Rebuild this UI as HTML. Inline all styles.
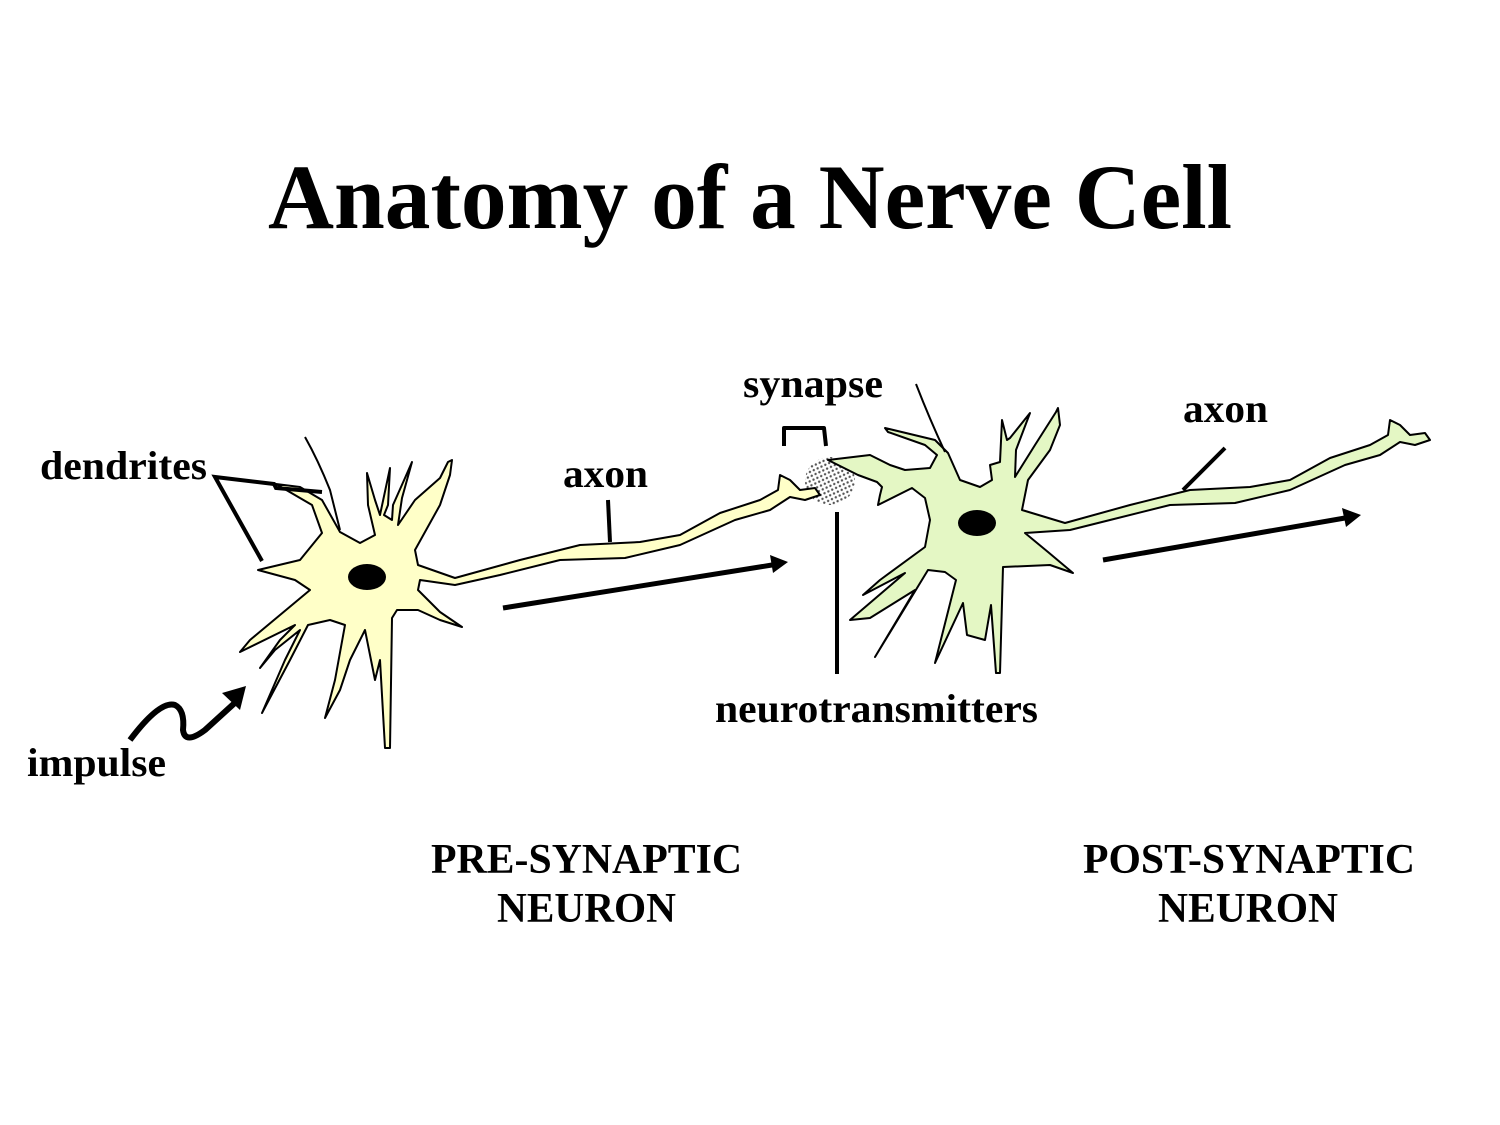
<!DOCTYPE html>
<html><head><meta charset="utf-8"><style>html,body{margin:0;padding:0;background:#fff}svg{display:block}</style></head>
<body>
<svg width="1500" height="1125" viewBox="0 0 1500 1125" xmlns="http://www.w3.org/2000/svg">
<defs>
<pattern id="dots" width="6" height="6" patternUnits="userSpaceOnUse" patternTransform="rotate(20)">
<circle cx="1.5" cy="1.5" r="1.2" fill="#555"/>
<circle cx="4.5" cy="4.5" r="1.2" fill="#555"/>
</pattern>
</defs>
<g font-family="'Liberation Serif',serif" font-weight="bold" fill="#000">
<text x="268" y="228" font-size="92" textLength="964" lengthAdjust="spacingAndGlyphs">Anatomy of a Nerve Cell</text>
<text x="40" y="479" font-size="40" textLength="167" lengthAdjust="spacingAndGlyphs">dendrites</text>
<text x="27" y="776" font-size="40" textLength="139" lengthAdjust="spacingAndGlyphs">impulse</text>
<text x="563" y="487" font-size="40" textLength="85" lengthAdjust="spacingAndGlyphs">axon</text>
<text x="743" y="397" font-size="40" textLength="140" lengthAdjust="spacingAndGlyphs">synapse</text>
<text x="1183" y="422" font-size="40" textLength="85" lengthAdjust="spacingAndGlyphs">axon</text>
<text x="715" y="722" font-size="40" textLength="323" lengthAdjust="spacingAndGlyphs">neurotransmitters</text>
<text x="431" y="873" font-size="42" textLength="311" lengthAdjust="spacingAndGlyphs">PRE-SYNAPTIC</text>
<text x="497" y="922" font-size="42" textLength="179" lengthAdjust="spacingAndGlyphs">NEURON</text>
<text x="1083" y="873" font-size="42" textLength="332" lengthAdjust="spacingAndGlyphs">POST-SYNAPTIC</text>
<text x="1158" y="922" font-size="42" textLength="180" lengthAdjust="spacingAndGlyphs">NEURON</text>
</g>

<!-- synapse dots -->
<ellipse cx="830" cy="481" rx="25" ry="24" fill="url(#dots)"/>

<!-- pre neuron -->
<path d="M258,570 L300,560 L322,533 L312,505 L276,484 L300,487 L322,500 L340,532 L360,543 L375,535 L368,505 L367,473 L375,500 L380,515 L390,468 L388,505 L384,515 L392,520 L393,505 L405,478 L412,462 L402,498 L398,525 L415,500 L440,478 L448,462 L452,460 L450,475 L440,505 L415,550 L418,565 L455,578 L520,560 L580,545 L640,542 L680,535 L720,513 L760,500 L778,490 L780,475 L790,480 L800,490 L815,488 L820,495 L805,500 L790,497 L770,510 L735,520 L680,545 L625,558 L560,560 L500,575 L455,585 L420,580 L418,590 L440,612 L462,627 L440,620 L418,610 L397,610 L392,618 L390,748 L385,748 L380,660 L375,680 L365,630 L350,660 L340,690 L325,718 L335,680 L345,625 L330,620 L308,625 L290,660 L262,713 L285,660 L300,630 L275,650 L260,668 L280,640 L295,625 L240,652 L250,640 L298,600 L310,590 L295,580 Z" fill="#ffffc8" stroke="#000" stroke-width="2" stroke-linejoin="round"/>
<path d="M305,437 Q318,460 330,490 L340,530" fill="none" stroke="#000" stroke-width="2"/>
<ellipse cx="367" cy="577" rx="19" ry="13" fill="#000"/>

<!-- post neuron -->
<path d="M828,460 L870,455 L890,465 L905,470 L930,468 L937,455 L925,445 L888,432 L885,428 L935,440 L948,453 L960,480 L980,487 L992,480 L990,465 L1000,462 L1002,420 L1007,440 L1010,438 L1030,413 L1016,450 L1015,477 L1035,445 L1056,412 L1058,408 L1060,425 L1050,450 L1028,480 L1022,510 L1065,523 L1130,505 L1190,490 L1250,487 L1290,480 L1330,458 L1370,445 L1388,435 L1390,420 L1400,425 L1410,435 L1425,433 L1430,440 L1415,445 L1400,442 L1380,455 L1345,465 L1290,490 L1235,503 L1170,505 L1110,520 L1070,530 L1025,533 L1048,552 L1073,573 L1050,565 L1003,567 L1000,673 L996,673 L991,605 L985,640 L967,635 L963,603 L935,663 L956,580 L945,572 L928,570 L875,657 L915,590 L870,618 L850,620 L905,573 L863,595 L880,580 L925,547 L930,520 L925,498 L912,488 L878,505 L880,495 L882,487 L877,482 L858,475 Z" fill="#e4f7c4" stroke="#000" stroke-width="2" stroke-linejoin="round"/>
<path d="M916,384 Q930,420 945,452" fill="none" stroke="#000" stroke-width="2"/>
<ellipse cx="977" cy="523" rx="19" ry="13" fill="#000"/>

<!-- pointers -->
<g stroke="#000" stroke-width="4" fill="none">
<polyline points="262,561 215,477 274,484 276,488 322,492"/>
<line x1="608" y1="500" x2="610" y2="542"/>
<line x1="1225" y1="448" x2="1183" y2="490"/>
<polyline points="784,446 784,428 824,428 826,446" stroke-linejoin="round"/>
<line x1="837" y1="512" x2="837" y2="674"/>
<line x1="503" y1="608" x2="772" y2="565" stroke-width="5"/>
<line x1="1103" y1="560" x2="1345" y2="518" stroke-width="5"/>
<path d="M130,740 Q160,700 175,705 Q185,710 183,730 Q185,745 205,730 L238,700" stroke-width="6"/>
</g>
<polygon points="788,562 770,555 773,573" fill="#000"/>
<polygon points="1361,515 1342,508 1346,527" fill="#000"/>
<polygon points="246,686 222,693 240,710" fill="#000"/>
</svg>
</body></html>
